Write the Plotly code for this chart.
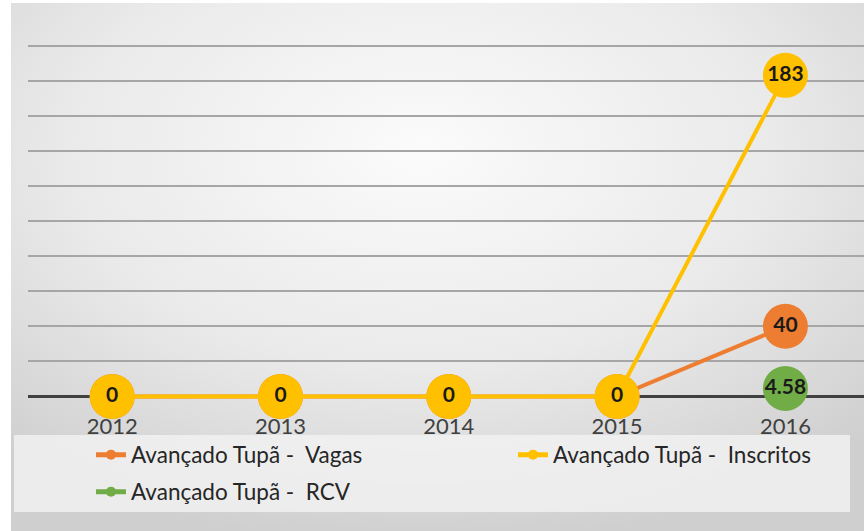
import base64
import plotly.graph_objects as go

# ---- data ----
years = ["2012", "2013", "2014", "2015", "2016"]
vagas = [0, 0, 0, 0, 40]
inscritos = [0, 0, 0, 0, 183]
rcv = [None, None, None, None, 4.58]

name_vagas = "Avançado Tupã -  Vagas"
name_inscritos = "Avançado Tupã -  Inscritos"
name_rcv = "Avançado Tupã -  RCV"

c_vagas = "#ED7D31"
c_insc = "#FFC000"
c_rcv = "#70AD47"

W, H = 864, 531
ML, MR, MT, MB = 28, 0, 42, 131
PW = W - ML - MR
PH = H - MT - MB

def px_x(p):
    return (p - ML) / PW

def px_y(p):
    return (H - MB - p) / PH

FONT = "Lato, 'Open Sans', sans-serif"

fig = go.Figure()

def series(y, color, name):
    fig.add_trace(go.Scatter(
        x=years, y=y, name=name, mode="lines+markers+text",
        line=dict(color=color, width=4),
        marker=dict(color=color, size=45, line=dict(width=0)),
        text=[None if v is None else f"{v:g}" for v in y],
        textposition="middle center",
        textfont=dict(family=FONT, size=21, color="#1a1a1a", weight="bold"),
        cliponaxis=False, showlegend=False, hoverinfo="skip",
        connectgaps=False,
    ))

series(vagas, c_vagas, name_vagas)
series(inscritos, c_insc, name_inscritos)
series(rcv, c_rcv, name_rcv)

# legend entries
def legend_entry(color, name, legend):
    fig.add_trace(go.Scatter(
        x=[None], y=[None], name=name, mode="lines+markers",
        line=dict(color=color, width=5),
        marker=dict(color=color, size=10),
        legend=legend, hoverinfo="skip",
    ))

legend_entry(c_vagas, name_vagas, "legend")
legend_entry(c_insc, name_inscritos, "legend3")
legend_entry(c_rcv, name_rcv, "legend2")

svg = ("<svg xmlns='http://www.w3.org/2000/svg' width='853' height='528' preserveAspectRatio='none'>"
       "<defs><radialGradient id='g' cx='0.48' cy='0.28' r='0.75'>"
       "<stop offset='0' stop-color='#fbfbfb'/><stop offset='0.55' stop-color='#eaeaea'/>"
       "<stop offset='1' stop-color='#cfcfcf'/></radialGradient></defs>"
       "<rect width='100%' height='100%' fill='url(#g)'/></svg>")
src = "data:image/svg+xml;base64," + base64.b64encode(svg.encode()).decode()

legfont = dict(family=FONT, size=22.5, color="#262626")

def leg(xpx, ypx):
    return dict(orientation="h", x=px_x(xpx), y=px_y(ypx), xanchor="left", yanchor="middle",
                bgcolor="rgba(0,0,0,0)", font=legfont, itemwidth=30)

fig.update_layout(
    width=W, height=H,
    margin=dict(l=ML, r=MR, t=MT, b=MB, pad=0, autoexpand=False),
    paper_bgcolor="white",
    plot_bgcolor="rgba(0,0,0,0)",
    images=[dict(source=src, xref="paper", yref="paper",
                 x=px_x(11), y=px_y(3), sizex=(W - 11) / PW, sizey=(H - 3) / PH,
                 xanchor="left", yanchor="top", sizing="stretch", layer="below")],
    shapes=[dict(type="rect", xref="paper", yref="paper",
                 x0=px_x(14), x1=px_x(850), y0=px_y(435), y1=px_y(512),
                 fillcolor="rgba(242,242,242,0.8)", line=dict(width=0), layer="below")],
    xaxis=dict(
        type="category", range=[-0.5, 4.467], showgrid=False, zeroline=False,
        showline=False, ticks="", ticklabelstandoff=11,
        tickfont=dict(family=FONT, size=22, color="#404040"),
        fixedrange=True,
    ),
    yaxis=dict(
        range=[-2, 202], dtick=20, tick0=0, showticklabels=False,
        showgrid=True, gridcolor="#a6a6a6", gridwidth=2,
        zeroline=True, zerolinecolor="#404040", zerolinewidth=3,
        fixedrange=True,
    ),
    legend=leg(91, 455),
    legend3=leg(513, 455),
    legend2=leg(91, 492),
    showlegend=True,
)

fig.write_html("out.html", config={"displayModeBar": False},
               post_script="document.body.style.margin='0';")
